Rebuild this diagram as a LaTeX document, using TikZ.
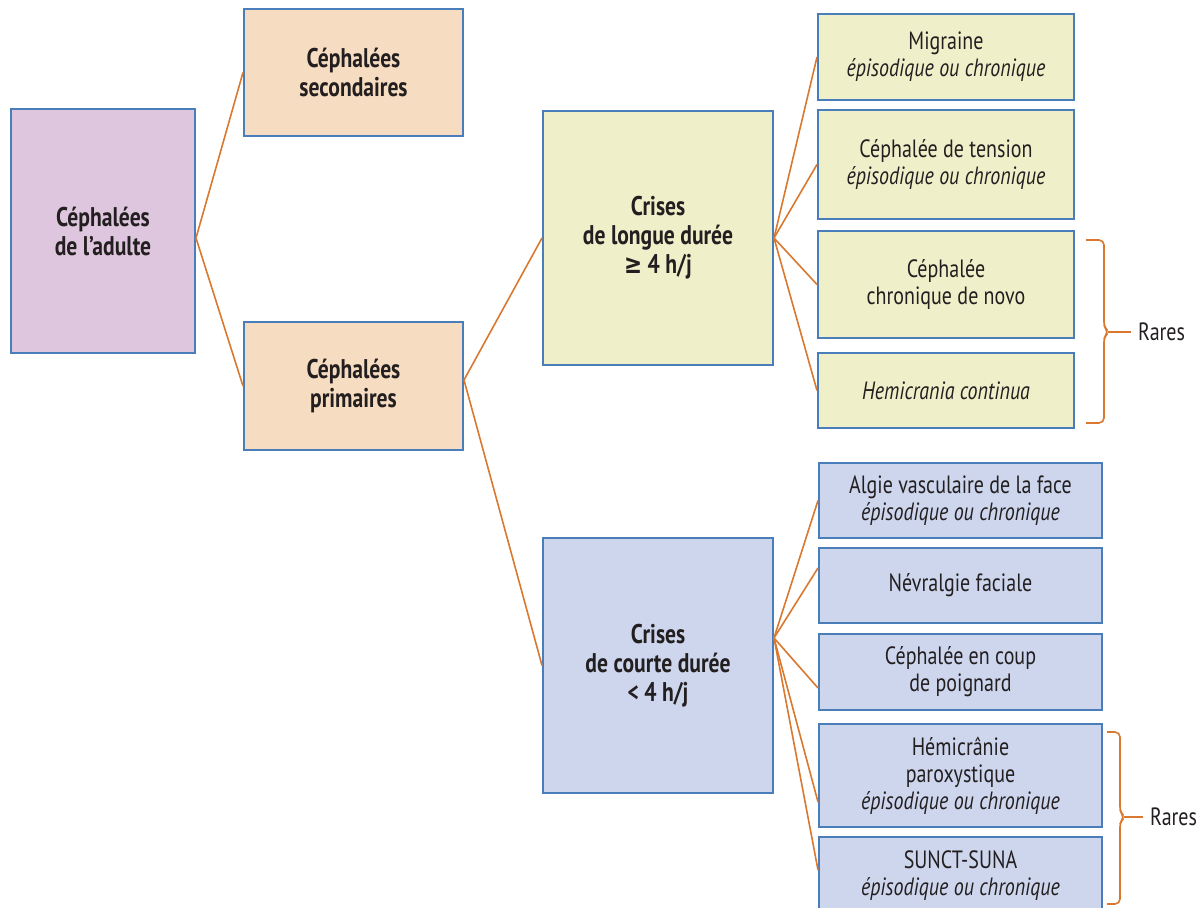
\documentclass[tikz,border=0pt]{standalone}
\usepackage{fontspec}
\setmainfont[FakeStretch=0.8]{PT Sans}
\newfontfamily\symfont[FakeStretch=0.8]{DejaVu Sans}

\definecolor{boxline}{HTML}{4A7EBB}
\definecolor{linkline}{HTML}{D9782E}
\definecolor{fillpurple}{HTML}{DEC7DE}
\definecolor{fillpeach}{HTML}{F6DCC0}
\definecolor{fillolive}{HTML}{EFF0CA}
\definecolor{fillblue}{HTML}{CDD6ED}
\definecolor{txt}{HTML}{231F20}

\tikzset{
	box/.style={draw=boxline, line width=1pt, align=center, inner sep=0pt,
		text=txt, font=\fontsize{12.5}{13.5}\selectfont},
	headbox/.style={box, font=\fontsize{13.5}{14.5}\selectfont\bfseries},
	boxsize/.style 2 args={minimum width=#1*0.5pt, minimum height=#2*0.5pt},
	link/.style={draw=linkline, line width=0.8pt},
	brace/.style={link, rounded corners=2.5pt},
}

\begin{document}
\begin{tikzpicture}[x=0.5pt,y=-0.5pt]
	\useasboundingbox (0,0) rectangle (1200,908);
	% first levels
	\node [headbox, boxsize={184}{244}, fill=fillpurple] (adulte) at (103,231) {Céphalées\\de l’adulte};
	\node [headbox, boxsize={219}{127}, fill=fillpeach] (second) at (353.5,72.5) {Céphalées\\secondaires};
	\node [headbox, boxsize={219}{128}, fill=fillpeach] (prim) at (353.5,386) {Céphalées\\primaires};
	\node [headbox, boxsize={230}{254}, fill=fillolive] (longue) at (658,238) {Crises\\de longue durée\\{\symfont ≥} 4 h/j};
	\node [headbox, boxsize={230}{255}, fill=fillblue] (courte) at (658,665.5) {Crises\\de courte durée\\< 4 h/j};
	% long attacks
	\node [box, boxsize={256}{86}, fill=fillolive] (migr) at (946,57) {Migraine\\\textit{épisodique ou chronique}};
	\node [box, boxsize={256}{109}, fill=fillolive] (tens) at (946,164.5) {Céphalée de tension\\\textit{épisodique ou chronique}};
	\node [box, boxsize={256}{107}, fill=fillolive] (novo) at (946,284.5) {Céphalée\\chronique de novo};
	\node [box, boxsize={256}{75}, fill=fillolive] (hcont) at (946,390.5) {\textit{Hemicrania continua}};
	% short attacks
	\node [box, boxsize={283}{75}, fill=fillblue] (algie) at (960.5,500.5) {Algie vasculaire de la face\\\textit{épisodique ou chronique}};
	\node [box, boxsize={283}{75}, fill=fillblue] (nevr) at (960.5,585.5) {Névralgie faciale};
	\node [box, boxsize={283}{76}, fill=fillblue] (coup) at (960.5,672) {Céphalée en coup\\de poignard};
	\node [box, boxsize={283}{103}, fill=fillblue] (hparox) at (960.5,775.5) {Hémicrânie\\paroxystique\\\textit{épisodique ou chronique}};
	\node [box, boxsize={283}{78}, fill=fillblue] (sunct) at (960.5,876) {SUNCT-SUNA\\\textit{épisodique ou chronique}};

	% connectors
	\draw [link] (second.west) -- ([yshift=-3.5pt]adulte.east) -- (prim.west);
	\draw [link] (longue.west) -- ([yshift=3pt]prim.east) -- (courte.west);
	\foreach \n in {migr,tens,novo,hcont}
		\draw [link] (longue.east) -- (\n.west);
	\coordinate (fan) at ([yshift=13.75pt]courte.east);
	\draw [link] (fan) -- (algie.west);
	\draw [link] (fan) -- ([yshift=8.75pt]nevr.west);
	\draw [link] (fan) -- ([yshift=-8pt]coup.west);
	\draw [link] (fan) -- ([yshift=-13.25pt]hparox.west);
	\draw [link] (fan) -- ([yshift=3pt]sunct.west);

	% braces
	\node [text=txt, font=\fontsize{12.5}{13.5}\selectfont, anchor=west] (rare1) at (1131,332) {Rares};
	\draw [brace] (1086,240) -- (1104,240) -- (1104,327) -- (1109,332) -- (1104,337) -- (1104,423) -- (1086,423);
	\draw [link] (1108,332) -- (rare1.west);
	\node [text=txt, font=\fontsize{12.5}{13.5}\selectfont, anchor=west] (rare2) at (1143,817) {Rares};
	\draw [brace] (1107,732) -- (1120,732) -- (1120,812) -- (1125,817) -- (1120,822) -- (1120,904) -- (1107,904);
	\draw [link] (1124,817) -- (rare2.west);
\end{tikzpicture}
\end{document}
